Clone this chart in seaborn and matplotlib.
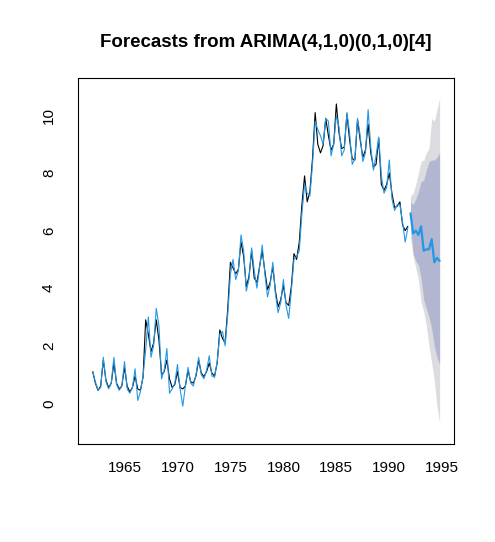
import matplotlib
matplotlib.use("Agg")
import matplotlib.pyplot as plt
import numpy as np
import pandas as pd
import seaborn as sns

# quarterly series, 1962 Q1 - 1991 Q4
start_year = 1962
freq = 4
observed = [
    1.1, 0.7, 0.45, 0.6,
    1.5, 0.8, 0.55, 0.7,
    1.4, 0.7, 0.5, 0.6,
    1.25, 0.6, 0.4, 0.55,
    0.95, 0.5, 0.45, 0.9,
    2.9, 2.4, 1.8, 2.1,
    2.9, 2.2, 1.0, 1.1,
    1.5, 0.85, 0.55, 0.65,
    1.1, 0.55, 0.5, 0.6,
    1.15, 0.75, 0.7, 0.95,
    1.5, 1.05, 0.93, 1.1,
    1.4, 1.05, 0.95, 1.4,
    2.55, 2.25, 2.1, 3.3,
    4.9, 4.7, 4.5, 4.65,
    5.6, 5.1, 4.05, 4.4,
    5.3, 4.35, 4.2, 4.75,
    5.3, 4.6, 3.95, 4.2,
    4.75, 3.9, 3.35, 3.6,
    4.1, 3.5, 3.4, 4.05,
    5.2, 5.0, 5.6, 6.9,
    7.9, 7.0, 7.35, 8.5,
    10.1, 9.0, 8.7, 8.95,
    9.9, 9.3, 8.8, 9.0,
    10.4, 9.4, 8.85, 8.9,
    10.05, 9.15, 8.5, 8.45,
    9.85, 9.15, 8.55, 8.8,
    9.7, 8.7, 8.2, 8.3,
    9.2, 7.6, 7.4, 7.6,
    8.0, 7.3, 6.8, 6.85,
    7.0, 6.2, 6.0, 6.15,
]

# one-step fitted values (blue line over the data)
fitted = [
    1.1, 0.75, 0.45, 0.55,
    1.6, 0.75, 0.5, 0.7,
    1.6, 0.65, 0.45, 0.6,
    1.45, 0.5, 0.35, 0.55,
    1.2, 0.1, 0.4, 0.95,
    1.85, 3.0, 1.6, 2.0,
    3.3, 2.7, 0.85, 1.15,
    1.9, 0.35, 0.5, 0.7,
    1.35, 0.5, -0.1, 0.6,
    1.25, 0.7, 0.6, 1.0,
    1.6, 1.0, 0.85, 1.15,
    1.65, 0.95, 0.9, 1.45,
    2.4, 2.5, 2.0, 3.1,
    4.5, 5.0, 4.3, 4.6,
    5.85, 5.3, 3.9, 4.3,
    5.4, 4.6, 4.0, 4.7,
    5.5, 4.5, 3.7, 4.1,
    4.9, 3.8, 3.15, 3.5,
    4.3, 3.4, 2.95, 3.9,
    5.0, 5.1, 5.3, 6.6,
    7.6, 7.3, 7.2, 8.3,
    9.8, 9.5, 9.3, 9.0,
    9.9, 9.8, 8.6, 9.0,
    10.0, 9.6, 8.6, 8.8,
    10.1, 9.4, 8.3, 8.5,
    9.9, 9.3, 8.4, 8.7,
    10.2, 8.9, 8.1, 8.6,
    9.25, 7.9, 7.3, 7.5,
    8.45, 7.1, 6.7, 6.9,
    6.9, 6.3, 5.6, 6.1,
]

# forecasts 1992 Q1 - 1994 Q4
fc_start = 1992
point_fc = [6.6, 5.9, 6.0, 5.85, 6.15, 5.3, 5.35, 5.35, 5.7, 4.9, 5.05, 4.95]
lo80 = [6.2, 5.2, 4.95, 4.8, 4.35, 3.6, 3.3, 3.0, 2.6, 2.0, 1.6, 1.35]
hi80 = [7.0, 6.9, 7.1, 7.35, 7.7, 7.75, 8.1, 8.4, 8.45, 8.45, 8.55, 8.7]
lo95 = [5.8, 5.1, 4.7, 4.3, 3.5, 3.2, 2.7, 2.0, 1.4, 0.8, -0.1, -0.65]
hi95 = [7.2, 7.3, 7.6, 8.0, 8.4, 8.45, 8.7, 8.85, 9.9, 9.8, 10.2, 10.6]

x_ticks = [1965, 1970, 1975, 1980, 1985, 1990, 1995]
y_ticks = [0, 2, 4, 6, 8, 10]

hist = pd.DataFrame({
    "time": start_year + np.arange(len(observed)) / freq,
    "observed": observed,
    "fitted": fitted,
})
fc = pd.DataFrame({
    "time": fc_start + np.arange(len(point_fc)) / freq,
    "mean": point_fc,
    "lo80": lo80, "hi80": hi80,
    "lo95": lo95, "hi95": hi95,
})

sns.set_style("white")
plt.rcParams["font.family"] = ["Liberation Sans", "DejaVu Sans"]

fig, ax = plt.subplots(figsize=(4.95, 5.42), dpi=100)
fig.subplots_adjust(left=0.158, right=0.917, bottom=0.181, top=0.856)

# prediction intervals
ax.fill_between(fc["time"], fc["lo95"], fc["hi95"], color="#DBDBE0", linewidth=0)
ax.fill_between(fc["time"], fc["lo80"], fc["hi80"], color="#B3B6D0", linewidth=0)

sns.lineplot(data=hist, x="time", y="observed", ax=ax, color="black", linewidth=0.8)
sns.lineplot(data=hist, x="time", y="fitted", ax=ax, color="#2297E6", linewidth=0.8)
sns.lineplot(data=fc, x="time", y="mean", ax=ax, color="#2297E6", linewidth=1.6)

ax.set_xlim(1960.63, 1996.1)
ax.set_ylim(-1.41, 11.3)
ax.set_xticks(x_ticks)
ax.set_yticks(y_ticks)
ax.set_xlabel("")
ax.set_ylabel("")
ax.set_yticklabels([str(v) for v in y_ticks], rotation=90, va="center")
ax.tick_params(axis="both", direction="out", length=7, width=0.8,
               labelsize=11, color="black", labelcolor="black")
ax.tick_params(axis="x", pad=5)
ax.tick_params(axis="y", pad=9)
for side in ["left", "right", "top", "bottom"]:
    ax.spines[side].set_visible(True)
    ax.spines[side].set_color("black")
    ax.spines[side].set_linewidth(0.8)

ax.set_title("Forecasts from ARIMA(4,1,0)(0,1,0)[4]", fontsize=13.5,
             fontweight="bold", color="black", pad=22)

fig.savefig("out.png", dpi=100)
